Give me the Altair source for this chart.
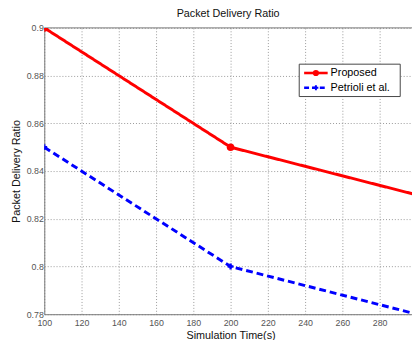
import altair as alt
import pandas as pd

times = [100, 200, 300]
proposed = [0.90, 0.85, 0.83]
petrioli = [0.85, 0.80, 0.78]
series_names = ["Proposed", "Petrioli et al."]
x_ticks = [100, 120, 140, 160, 180, 200, 220, 240, 260, 280, 300]
y_ticks = [0.78, 0.80, 0.82, 0.84, 0.86, 0.88, 0.90]

df = pd.DataFrame(
    {
        "time": times * 2,
        "pdr": proposed + petrioli,
        "series": [series_names[0]] * 3 + [series_names[1]] * 3,
    }
)
one = pd.DataFrame({"k": [0]})

FONT = "Liberation Sans"
W, H = 375, 292

xscale = alt.Scale(domain=[100, 100 + 375 / 190 * 100], nice=False, zero=False)
yscale = alt.Scale(domain=[0.78, 0.90], nice=False, zero=False)
cscale = alt.Scale(domain=series_names, range=["#ff0000", "#0000ff"])

common_axis = dict(
    titleFontSize=11,
    titleFontWeight="normal",
    titleColor="#111",
    labelFontSize=9,
    labelColor="#555",
    labelFlush=False,
    tickSize=0,
    grid=True,
    gridDash=[1, 2],
    gridColor="#999",
    domainColor="#777",
)

base = alt.Chart(df).encode(
    x=alt.X(
        "time:Q",
        scale=xscale,
        axis=alt.Axis(
            values=x_ticks,
            title="Simulation Time(s)",
            titleX=190,
            titleY=16,
            titleBaseline="top",
            titleAlign="center",
            labelPadding=5,
            **common_axis,
        ),
    ),
    y=alt.Y(
        "pdr:Q",
        scale=yscale,
        axis=alt.Axis(
            values=y_ticks,
            labelExpr="format(datum.value, '.2~f')",
            title="Packet Delivery Ratio",
            titleX=-28,
            titleY=H / 2,
            titleAngle=-90,
            titleAlign="center",
            titleBaseline="middle",
            labelPadding=1,
            **common_axis,
        ),
    ),
    color=alt.Color("series:N", scale=cscale, legend=None),
    strokeDash=alt.StrokeDash(
        "series:N",
        scale=alt.Scale(domain=series_names, range=[[1, 0], [7, 4]]),
        legend=None,
    ),
)

lines = base.mark_line(strokeWidth=3, clip=True)
pts = (
    alt.Chart(df[df.series == series_names[0]])
    .mark_circle(size=60, opacity=1, clip=True)
    .encode(
        x=alt.X("time:Q", scale=xscale),
        y=alt.Y("pdr:Q", scale=yscale),
        color=alt.Color("series:N", scale=cscale, legend=None),
    )
)
pts2 = (
    alt.Chart(df[df.series == series_names[1]])
    .mark_point(shape="cross", size=35, filled=True, opacity=1, clip=True)
    .encode(
        x=alt.X("time:Q", scale=xscale),
        y=alt.Y("pdr:Q", scale=yscale),
        color=alt.Color("series:N", scale=cscale, legend=None),
    )
)

top_rule = alt.Chart(one).mark_rule(color="#777", strokeWidth=1).encode(
    x=alt.value(0), x2=alt.value(W), y=alt.value(0)
)

# Legend box
leg_box = alt.Chart(one).mark_rect(
    fill="white", stroke="#444", strokeWidth=1
).encode(x=alt.value(260), x2=alt.value(363), y=alt.value(37), y2=alt.value(70))
leg_l1 = alt.Chart(one).mark_rule(color="#ff0000", strokeWidth=2.6).encode(
    x=alt.value(265), x2=alt.value(289), y=alt.value(46)
)
leg_p1 = alt.Chart(one).mark_circle(color="#ff0000", size=40, opacity=1).encode(
    x=alt.value(277), y=alt.value(46)
)
leg_l2 = alt.Chart(one).mark_rule(
    color="#0000ff", strokeWidth=2.6, strokeDash=[5, 3]
).encode(x=alt.value(265), x2=alt.value(289), y=alt.value(61))
leg_p2 = alt.Chart(one).mark_point(
    color="#0000ff", shape="cross", size=25, filled=True, opacity=1
).encode(x=alt.value(277), y=alt.value(61))
leg_t1 = alt.Chart(one).mark_text(
    text=series_names[0], align="left", baseline="middle", font=FONT,
    fontSize=11, fontWeight="normal", color="#000"
).encode(x=alt.value(292), y=alt.value(46))
leg_t2 = alt.Chart(one).mark_text(
    text=series_names[1], align="left", baseline="middle", font=FONT,
    fontSize=11, fontWeight="normal", color="#000"
).encode(x=alt.value(292), y=alt.value(61))

chart = (
    alt.layer(
        top_rule, lines, pts, pts2, leg_box, leg_l1, leg_p1, leg_l2, leg_p2, leg_t1, leg_t2
    )
    .properties(
        width=W,
        height=H,
        title=alt.TitleParams(
            "Packet Delivery Ratio",
            fontSize=11,
            fontWeight="normal",
            font=FONT,
            color="#111",
            anchor="middle",
            offset=5,
        ),
        autosize=alt.AutoSizeParams(type="none"),
        padding={"left": 37, "top": 17, "right": 0, "bottom": 23},
    )
    .configure(font=FONT)
    .configure_view(stroke=None)
)

chart.save("out.html", embed_options={"renderer": "svg", "actions": False})
